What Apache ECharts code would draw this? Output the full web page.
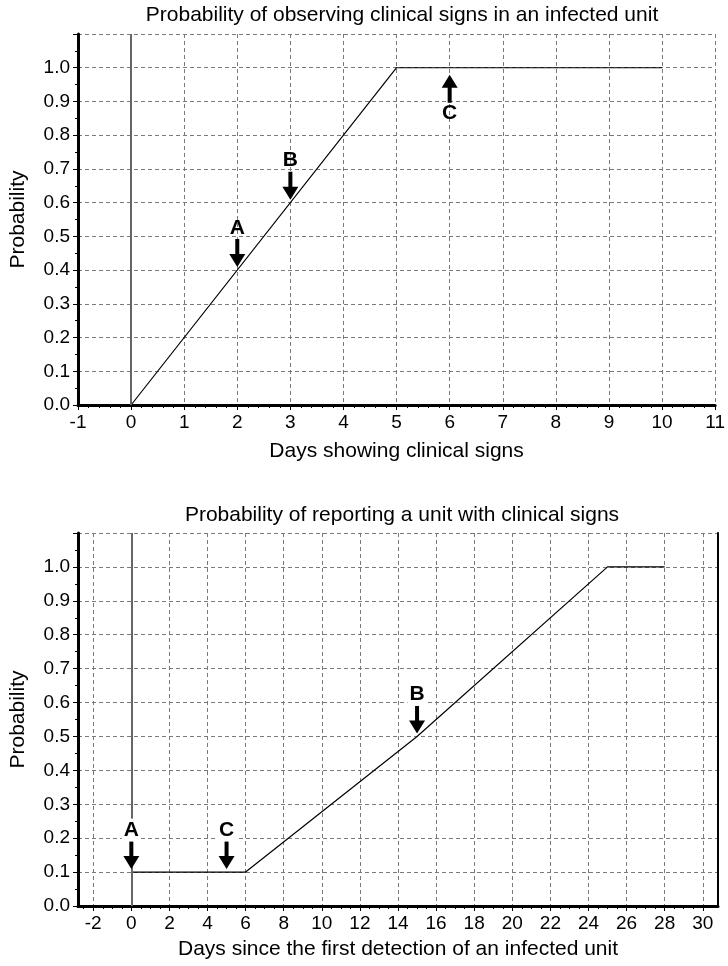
<!DOCTYPE html>
<html><head><meta charset="utf-8">
<script src="https://cdn.jsdelivr.net/npm/echarts@6/dist/echarts.min.js"></script>
<style>html,body{margin:0;padding:0;background:#fff}#c{width:728px;height:966px}</style>
</head><body><div id="c"></div>
<script>
// ---- data ----
const topTitle = 'Probability of observing clinical signs in an infected unit';
const bottomTitle = 'Probability of reporting a unit with clinical signs';
const topXName = 'Days showing clinical signs';
const bottomXName = 'Days since the first detection of an infected unit';
const yName = 'Probability';

const topX = [0, 5, 10];
const topY = [0, 1, 1];
const bottomX = [0, 6, 15, 25, 28];
const bottomY = [0.1, 0.1, 0.5, 1, 1];

const topArrowLabels = ['A', 'B', 'C'];
const topArrowX = [2, 3, 6];
const topArrowY = [0.4, 0.6, 1.0];
const topArrowDir = ['down', 'down', 'up'];

const bottomArrowLabels = ['A', 'C', 'B'];
const bottomArrowX = [0, 5, 15];
const bottomArrowY = [0.1, 0.1, 0.5];
const bottomArrowDir = ['down', 'down', 'down'];

const bottomXTicks = [-2, 0, 2, 4, 6, 8, 10, 12, 14, 16, 18, 20, 22, 24, 26, 28, 30];
const markerX = 0;

// ---- styles ----
const FONT = 'Liberation Sans';
const gridLine = { show: true, lineStyle: { type: [4, 3], color: '#7a7a7a', width: 1 } };
const DOWN = 'path://M6,0 L10,0 L10,15 L16,15 L8,28 L0,15 L6,15 Z';
const UP = 'path://M8,0 L16,13 L10,13 L10,28 L6,28 L6,13 L0,13 Z';

function arrowData(xs, ys, dirs) {
  return xs.map((x, i) => ({
    value: [x, ys[i]],
    symbol: dirs[i] === 'down' ? DOWN : UP,
    symbolOffset: dirs[i] === 'down' ? [0, -17] : [0, 21]
  }));
}
function letterData(xs, ys, dirs, labels) {
  return xs.map((x, i) => ({
    value: [x, ys[i]],
    label: {
      formatter: labels[i],
      offset: dirs[i] === 'down' ? [0, -42] : [0, 45]
    }
  }));
}

function yAxisFor(gridIndex) {
  return {
    type: 'value', gridIndex, min: 0, max: 1.1, interval: 0.1,
    name: yName, nameLocation: 'middle', nameGap: 49,
    nameTextStyle: { fontFamily: FONT, fontSize: 21, color: '#000' },
    axisLine: { show: true, onZero: false, lineStyle: { color: '#000', width: 3 } },
    axisTick: { show: true, length: 5, lineStyle: { color: '#000', width: 1 } },
    minorTick: { show: true, splitNumber: 2, length: 3, lineStyle: { color: '#000' } },
    axisLabel: {
      fontFamily: FONT, fontSize: 19, color: '#000', margin: 8,
      formatter: v => v > 1.05 ? '' : v.toFixed(1)
    },
    splitLine: gridLine
  };
}

const chart = echarts.init(document.getElementById('c'), null, { renderer: 'canvas' });
chart.setOption({
  animation: false,
  backgroundColor: '#fff',
  title: [
    { text: topTitle, left: 397, top: 0, textAlign: 'center',
      textStyle: { fontFamily: FONT, fontSize: 21, fontWeight: 'normal', color: '#000' } },
    { text: bottomTitle, left: 397, top: 500, textAlign: 'center',
      textStyle: { fontFamily: FONT, fontSize: 21, fontWeight: 'normal', color: '#000' } }
  ],
  grid: [
    { left: 75, right: 9, top: 34, height: 371 },
    { left: 75, right: 10, top: 533, height: 373 }
  ],
  xAxis: [
    {
      type: 'value', gridIndex: 0, min: -1, max: 11, interval: 1,
      name: topXName, nameLocation: 'middle', nameGap: 36,
      nameTextStyle: { fontFamily: FONT, fontSize: 21, color: '#000' },
      axisLine: { show: true, onZero: false, lineStyle: { color: '#000', width: 3 } },
      axisTick: { show: true, length: 5, lineStyle: { color: '#000' } },
      minorTick: { show: true, splitNumber: 5, length: 3, lineStyle: { color: '#000' } },
      axisLabel: { fontFamily: FONT, fontSize: 19, color: '#000', margin: 8, showMinLabel: true, showMaxLabel: true },
      splitLine: gridLine
    },
    {
      type: 'value', gridIndex: 1, min: -2.8, max: 30.8,
      name: bottomXName, nameLocation: 'middle', nameGap: 33,
      nameTextStyle: { fontFamily: FONT, fontSize: 21, color: '#000' },
      axisLine: { show: true, onZero: false, lineStyle: { color: '#000', width: 3 } },
      axisTick: { show: true, length: 5, customValues: bottomXTicks, lineStyle: { color: '#000' } },
      axisLabel: { fontFamily: FONT, fontSize: 19, color: '#000', margin: 8, customValues: bottomXTicks },
      splitLine: gridLine
    },
    {
      type: 'value', gridIndex: 1, min: -2.8, max: 30.8, position: 'bottom',
      axisLine: { show: false, onZero: false },
      axisTick: { show: true, length: 3, lineStyle: { color: '#000' },
        customValues: bottomXTicks.flatMap(t => [t - 1.5, t - 1, t - 0.5]).filter(v => v > -2.8) },
      axisLabel: { show: false },
      splitLine: { show: false }
    }
  ],
  yAxis: [
    yAxisFor(0),
    yAxisFor(1),
    {
      type: 'value', gridIndex: 1, min: 0, max: 1.1, position: 'right',
      axisLine: { show: true, onZero: false, lineStyle: { color: '#000', width: 2 } },
      axisTick: { show: false }, axisLabel: { show: false }, splitLine: { show: false }
    }
  ],
  series: [
    {
      type: 'line', xAxisIndex: 0, yAxisIndex: 0, z: 3,
      data: topX.map((x, i) => [x, topY[i]]),
      showSymbol: false, symbol: 'none',
      lineStyle: { color: '#000', width: 1.2 },
      markLine: {
        silent: true, symbol: 'none', label: { show: false },
        lineStyle: { color: '#666', width: 2, type: 'solid' },
        data: [{ xAxis: markerX }]
      }
    },
    {
      type: 'line', xAxisIndex: 1, yAxisIndex: 1, z: 3,
      data: bottomX.map((x, i) => [x, bottomY[i]]),
      showSymbol: false, symbol: 'none',
      lineStyle: { color: '#000', width: 1.2 },
      markLine: {
        silent: true, symbol: 'none', label: { show: false },
        lineStyle: { color: '#666', width: 2, type: 'solid' },
        data: [{ xAxis: markerX }]
      }
    },
    {
      type: 'scatter', xAxisIndex: 0, yAxisIndex: 0, z: 5,
      symbolSize: [16, 28], itemStyle: { color: '#000', opacity: 1 },
      data: arrowData(topArrowX, topArrowY, topArrowDir)
    },
    {
      type: 'scatter', xAxisIndex: 1, yAxisIndex: 1, z: 5,
      symbolSize: [16, 28], itemStyle: { color: '#000', opacity: 1 },
      data: arrowData(bottomArrowX, bottomArrowY, bottomArrowDir)
    },
    {
      type: 'scatter', xAxisIndex: 0, yAxisIndex: 0, z: 6,
      symbolSize: 1, itemStyle: { color: 'rgba(0,0,0,0)', opacity: 1 },
      label: { show: true, position: 'inside', fontFamily: FONT, fontSize: 21, fontWeight: 'bold', color: '#000' },
      data: letterData(topArrowX, topArrowY, topArrowDir, topArrowLabels)
    },
    {
      type: 'scatter', xAxisIndex: 1, yAxisIndex: 1, z: 6,
      symbolSize: 1, itemStyle: { color: 'rgba(0,0,0,0)', opacity: 1 },
      label: { show: true, position: 'inside', fontFamily: FONT, fontSize: 21, fontWeight: 'bold', color: '#000',
        backgroundColor: '#fff', padding: [1, 2, 1, 2] },
      data: letterData(bottomArrowX, bottomArrowY, bottomArrowDir, bottomArrowLabels)
    }
  ]
});
</script></body></html>
